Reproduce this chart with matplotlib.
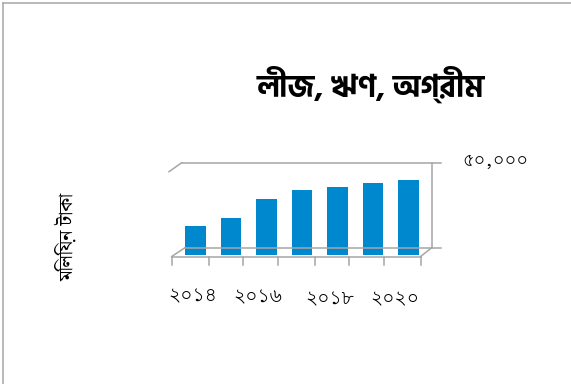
import matplotlib
matplotlib.use("Agg")
import matplotlib.pyplot as plt
from matplotlib.lines import Line2D

# data
years = ['২০১৪', '২০১৫', '২০১৬', '২০১৭', '২০১৮', '২০১৯', '২০২০']
values = [17000, 21800, 32900, 38200, 40000, 42400, 44100]
shown_years = ['২০১৪', '২০১৬', '২০১৮', '২০২০']
ymax = 50000
ymax_label = '৫০,০০০'
title = 'লীজ, ঋণ, অগ্রীম'
ylabel = 'মিলিয়ন টাকা'

digit_font = ['Lohit Bengali', 'DejaVu Sans']
text_font = ['Noto Serif Bengali', 'DejaVu Sans']
title_font = ['Hind Siliguri', 'DejaVu Sans']

W, H = 571, 384
fig = plt.figure(figsize=(W / 100, H / 100), dpi=100)


def px(x, y):
    return x / W, 1 - y / H


def line(x0, y0, x1, y1):
    a, b = px(x0, y0)
    c, d = px(x1, y1)
    fig.add_artist(Line2D([a, c], [b, d], color='#a6a6a6', lw=1.1))


# figure border (top and left)
line(3, 3, W + 5, 3)
line(3, 3, 3, H + 5)

# bar plane
ax = fig.add_axes([177.5 / W, 1 - 255 / H, 249 / W, 85 / H])
ax.bar(range(len(values)), values, width=0.58, color='#0088cf')
ax.set_xlim(-0.5, len(values) - 0.5)
ax.set_ylim(0, ymax)
ax.axis('off')

# 3d-like walls and floor
line(181.7, 162.7, 441, 162.7)
line(169, 171.7, 181.7, 162.7)
line(431.7, 162.7, 431.7, 247.7)
line(185, 247.7, 441, 247.7)
line(171.7, 256.5, 185, 247.7)
line(171.7, 256.5, 420.7, 256.5)
line(420.7, 256.5, 431.7, 247.7)
for bx in [172, 208.7, 242.7, 277.7, 314.7, 349, 383.7, 420.7]:
    line(bx, 256.5, bx, 265)

fig.text(*px(462, 161), ymax_label, family=digit_font, fontsize=13, va='center', ha='left')
for lab, (x, y) in zip(shown_years, [(193, 296), (258, 297), (330, 299), (395, 299)]):
    fig.text(*px(x, y), lab, family=digit_font, fontsize=13.5, ha='center', va='center')
fig.text(*px(67, 237), ylabel, family=text_font, fontsize=14, rotation=90, ha='center', va='center')
fig.text(*px(370, 84), title, family=title_font, fontsize=22, fontweight='bold', ha='center', va='center')

fig.savefig('out.png', dpi=100)
